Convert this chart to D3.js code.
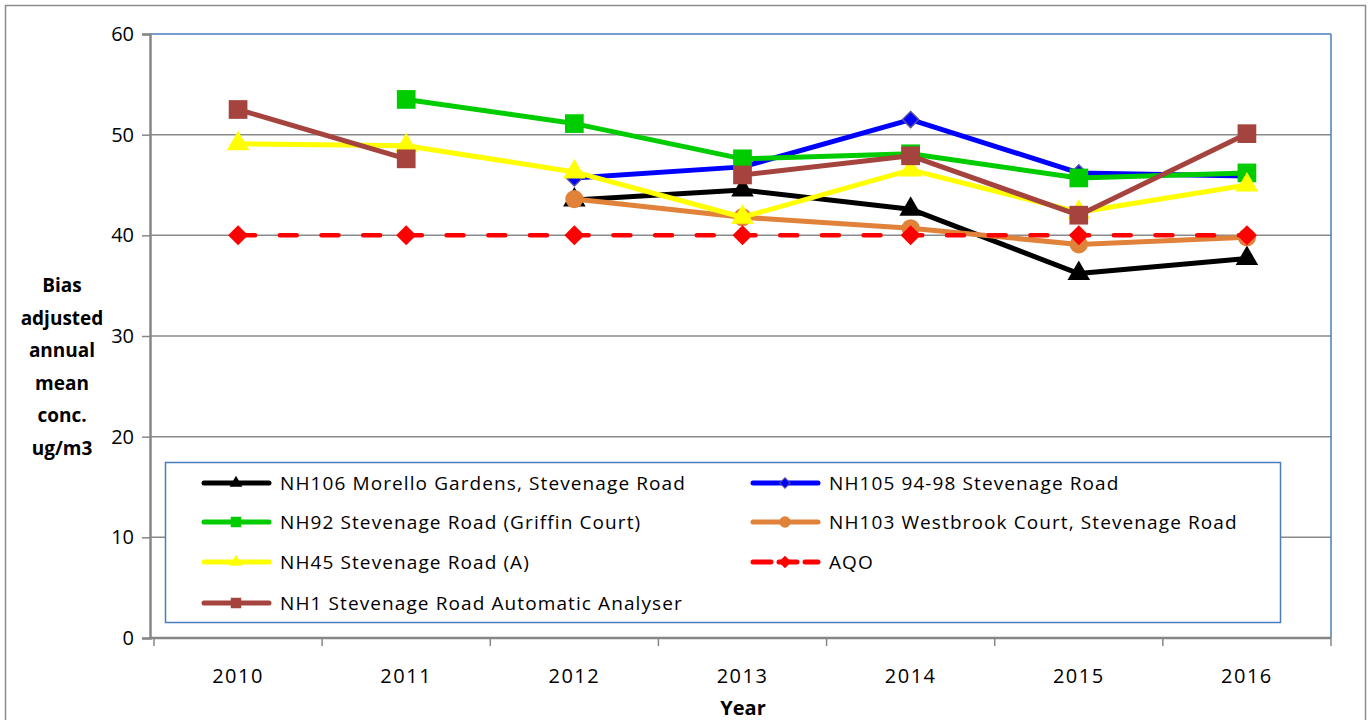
<!DOCTYPE html>
<html><head><meta charset="utf-8">
<script src="https://cdn.jsdelivr.net/npm/d3@7"></script>
<style>body{margin:0;background:#fff}svg{display:block}text{font-family:"Open Sans",sans-serif}</style>
</head><body><svg id="c" width="1371" height="720"></svg>
<script>
const years = ["2010","2011","2012","2013","2014","2015","2016"];
const nh106 = [null,null,43.5,44.5,42.6,36.2,37.7];
const nh105 = [null,null,45.7,46.8,51.5,46.2,45.9];
const nh92  = [null,53.5,51.1,47.6,48.1,45.7,46.2];
const nh103 = [null,null,43.6,41.8,40.7,39.1,39.8];
const nh45  = [49.1,48.9,46.3,41.8,46.5,42.3,45.0];
const aqo   = [40,40,40,40,40,40,40];
const nh1   = [52.5,47.6,null,46.0,47.9,42.0,50.1];
const yTicks = [0,10,20,30,40,50,60];
const seriesNames = ["NH106 Morello Gardens, Stevenage Road","NH105 94-98 Stevenage Road","NH92 Stevenage Road (Griffin Court)","NH103 Westbrook Court, Stevenage Road","NH45 Stevenage Road (A)","AQO","NH1 Stevenage Road Automatic Analyser"];

const series = [
 {name:seriesNames[0], vals:nh106, color:"#000000", sym:d3.symbolTriangle, size:220, lsize:70},
 {name:seriesNames[1], vals:nh105, color:"#0000ff", sym:d3.symbolSquare, rot:45, size:130, lsize:55, stroke:"#5a4f96"},
 {name:seriesNames[2], vals:nh92, color:"#00cc00", sym:d3.symbolSquare, size:350, lsize:110},
 {name:seriesNames[3], vals:nh103, color:"#e0823a", sym:d3.symbolCircle, size:260, lsize:100},
 {name:seriesNames[4], vals:nh45, color:"#ffff00", sym:d3.symbolTriangle, size:220, lsize:70},
 {name:seriesNames[5], vals:aqo, color:"#ff0000", sym:d3.symbolSquare, rot:45, size:200, lsize:80, dash:"17,24.7"},
 {name:seriesNames[6], vals:nh1, color:"#a5443f", sym:d3.symbolSquare, size:350, lsize:110}
];

const svg = d3.select("#c");
const L=150,R=1331,T=34,B=638;
const x = d3.scaleBand().domain(years).range([154,R]);
const y = d3.scaleLinear().domain([0,60]).range([B,T]);

// outer border
svg.append("rect").attr("x",5.5).attr("y",5.5).attr("width",1360).attr("height",730).attr("fill","none").attr("stroke","#8c8c8c").attr("stroke-width",1.5);

// gridlines
svg.append("g").selectAll("line").data(yTicks.filter(t=>t>0 && t<60)).join("line")
 .attr("x1",L).attr("x2",R).attr("y1",d=>y(d)).attr("y2",d=>y(d)).attr("stroke","#8a8a8a").attr("stroke-width",1.5);

// plot border (blue)
svg.append("line").attr("x1",L).attr("x2",R).attr("y1",T).attr("y2",T).attr("stroke","#4a7ebb").attr("stroke-width",1.5);
svg.append("line").attr("x1",R).attr("x2",R).attr("y1",T).attr("y2",B).attr("stroke","#4a7ebb").attr("stroke-width",1.5);

// y axis
const ya = svg.append("g").attr("transform",`translate(${L},0)`).call(d3.axisLeft(y).tickValues(yTicks).tickSize(8).tickPadding(8));
ya.select(".domain").attr("stroke","#868686").attr("stroke-width",2.5);
ya.selectAll(".tick line").attr("stroke","#868686").attr("stroke-width",1.5);
ya.selectAll(".tick text").attr("font-size",20).attr("fill","#000").attr("font-family","Open Sans");

// x axis with ticks at band boundaries
const xa = svg.append("g").attr("transform",`translate(0,${B})`);
xa.append("line").attr("x1",L).attr("x2",R).attr("stroke","#868686").attr("stroke-width",2.5);
const bounds = years.map(d=>x(d)).concat([R]);
xa.selectAll("line.tk").data(bounds).join("line").attr("class","tk").attr("x1",d=>d).attr("x2",d=>d).attr("y1",0).attr("y2",8).attr("stroke","#868686").attr("stroke-width",1.5);
xa.selectAll("text").data(years).join("text").attr("x",d=>x(d)+x.bandwidth()/2).attr("y",45)
 .attr("text-anchor","middle").attr("font-size",20).attr("letter-spacing",1.5).attr("fill","#000").text(d=>d);

// axis titles
svg.append("text").attr("x",743).attr("y",715).attr("text-anchor","middle").attr("font-weight","bold").attr("font-size",20).text("Year");
const yt = ["Bias","adjusted","annual","mean","conc.","ug/m3"];
svg.append("g").selectAll("text").data(yt).join("text").attr("x",62).attr("y",(d,i)=>292+i*32.6)
 .attr("text-anchor","middle").attr("font-weight","bold").attr("font-size",19).text(d=>d);

// series
const cx = i=>x(years[i])+x.bandwidth()/2;
series.forEach(s=>{
  const g = svg.append("g");
  const line = d3.line().defined(d=>d!=null).x((d,i)=>cx(i)).y(d=>y(d));
  g.append("path").datum(s.vals).attr("d",line).attr("fill","none").attr("stroke",s.color).attr("stroke-width",s.dash?4.5:5)
   .attr("stroke-dasharray",s.dash||null).attr("stroke-linejoin","round").attr("stroke-linecap",s.dash?"round":"butt");
  g.selectAll("path.m").data(s.vals.map((v,i)=>({v,i})).filter(d=>d.v!=null)).join("path").attr("class","m")
   .attr("d",d3.symbol().type(s.sym).size(s.size)).attr("transform",d=>`translate(${cx(d.i)},${y(d.v)}) rotate(${s.rot||0})`)
   .attr("fill",s.color).attr("stroke",s.stroke||"none").attr("stroke-width",1.5);
});

// legend
svg.append("rect").attr("x",165.5).attr("y",462.5).attr("width",1115).attr("height",160).attr("fill","#fff").attr("stroke","#4a7ebb").attr("stroke-width",1.5);
const cols=[204,753], rows=[483,522,562,603];
series.forEach((s,k)=>{
  const c=cols[k%2], r=rows[Math.floor(k/2)];
  const g=svg.append("g");
  g.append("line").attr("x1",c).attr("x2",c+65).attr("y1",r).attr("y2",r).attr("stroke",s.color).attr("stroke-width",5)
   .attr("stroke-dasharray",s.dash?"18,8":null).attr("stroke-linecap","round");
  g.append("path").attr("d",d3.symbol().type(s.sym).size(s.lsize)).attr("transform",`translate(${c+32},${r}) rotate(${s.rot||0})`).attr("fill",s.color).attr("stroke",s.stroke||"none");
  g.append("text").attr("x",c+76).attr("y",r+7).attr("font-size",19).attr("letter-spacing",1.1).attr("fill","#000").text(s.name);
});
</script></body></html>
